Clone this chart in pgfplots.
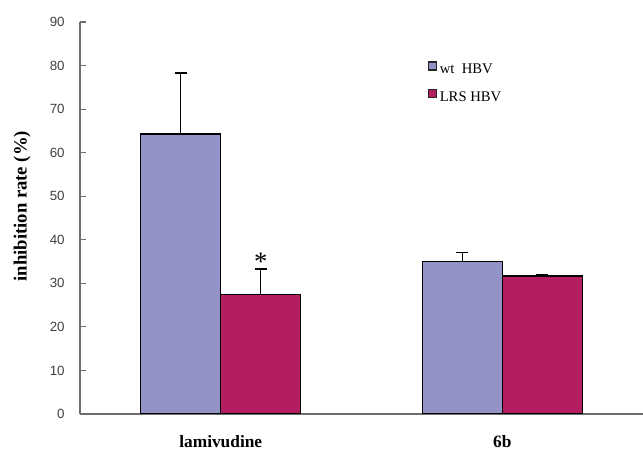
\documentclass[border=0pt]{standalone}
\usepackage{pgfplots}
\pgfplotsset{compat=1.18}
\usepackage{fontspec}
\setmainfont{Liberation Serif}
\setsansfont{Liberation Sans}
\definecolor{wtc}{RGB}{147,147,200}
\definecolor{lrsc}{RGB}{178,30,96}
\definecolor{axc}{RGB}{110,110,110}
\begin{document}
\begin{tikzpicture}
\useasboundingbox (-60pt,-28.5pt) rectangle (422.25pt,310.5pt);
\begin{axis}[
  at={(0,0)}, anchor=south west,
  scale only axis, width=422.25pt, height=294pt,
  xmin=-0.5, xmax=1.5, ymin=0, ymax=90,
  axis lines*=left,
  axis line style={axc, line width=0.9pt, -},
  ytick={0,10,...,90},
  yticklabel style={font=\sffamily\fontsize{10}{11}\selectfont, text=black!75, xshift=-8pt},
  /pgf/number format/assume math mode=true,
  major tick length=4.5pt,
  tick style={axc, line width=0.9pt},
  xtick={0,1},
  xticklabels={\textbf{lamivudine},\textbf{6b}},
  xticklabel style={font=\fontsize{13}{15}\selectfont, yshift=-8pt},
  x tick style={draw=none},
  extra x ticks={0.5},
  extra x tick labels={},
  extra x tick style={tick style={axc, line width=0.9pt, draw=axc}, major tick length=4.5pt},
  ylabel={\textbf{inhibition rate (\%)}},
  ylabel style={font=\fontsize{14}{16}\selectfont, at={(-0.103,0.53)}, anchor=center},
  ybar=0pt, bar width=0.284,
  legend style={draw=none, fill=none, at={(axis cs:0.735,81)}, anchor=north west,
    font=\fontsize{11}{13}\selectfont, row sep=8pt, inner sep=0pt},
  legend cell align=left,
  legend image code/.code={\draw[#1, draw=black!85, line width=0.9pt] (0pt,0pt) rectangle (6pt,6pt);},
  error bars/y dir=plus, error bars/y explicit,
  error bars/error bar style={black, line width=0.9pt},
  error bars/error mark options={rotate=90, mark size=4.5pt, line width=0.9pt, black},
]
\addplot[fill=wtc, draw=black, line width=0.9pt, bar shift=-0.142] coordinates {(0,64.3) +- (0,14.0) (1,35.1) +- (0,1.9)};
\addlegendentry{wt\ \ HBV}
\addplot[fill=lrsc, draw=black, line width=0.9pt, bar shift=0.142] coordinates {(0,27.5) +- (0,5.8) (1,31.7) +- (0,0.4)};
\addlegendentry{LRS HBV}
\node[font=\fontsize{20}{20}\selectfont] at (axis cs:0.142,35.0) {*};
\end{axis}
\end{tikzpicture}
\end{document}
